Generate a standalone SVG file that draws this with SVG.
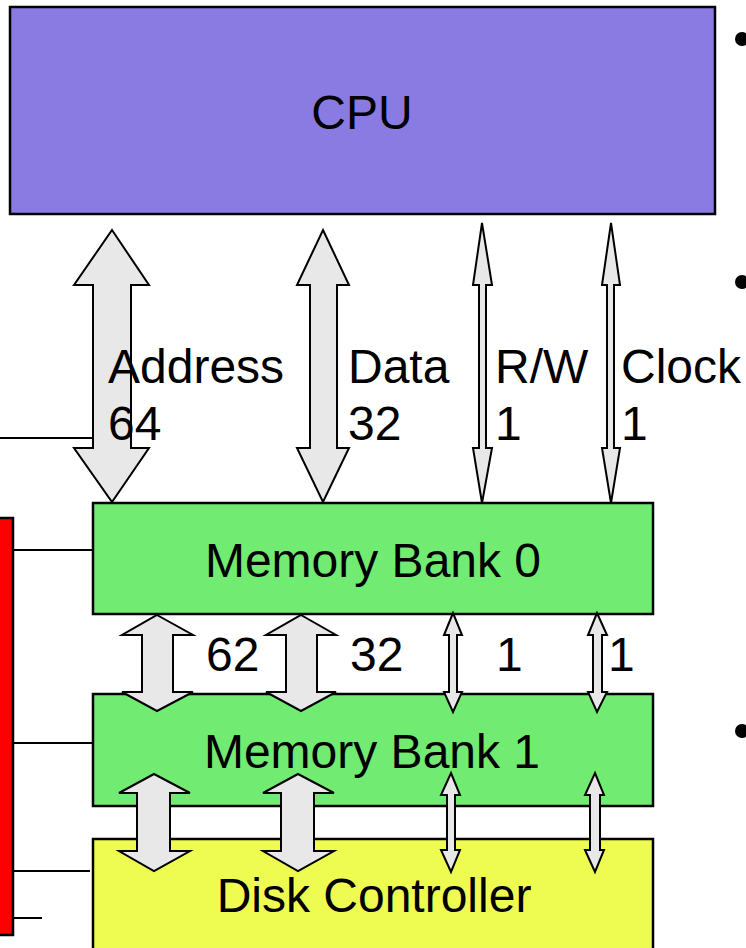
<svg xmlns="http://www.w3.org/2000/svg" width="746" height="948" viewBox="0 0 746 948">
<style>
.box{stroke:#000;stroke-width:2.5}
.arr{fill:#e8e8e8;stroke:#000;stroke-width:2;stroke-linejoin:miter}
.ln{stroke:#000;stroke-width:2;fill:none}
text{font-family:"Liberation Sans",Arial,sans-serif;font-size:48px;fill:#000}
.c{text-anchor:middle}
</style>
<rect width="746" height="948" fill="#fff"/>
<g id="lines">
<line class="ln" x1="0" y1="438" x2="92" y2="438"/>
<line class="ln" x1="13" y1="550" x2="93" y2="550"/>
<line class="ln" x1="13" y1="743" x2="93" y2="743"/>
<line class="ln" x1="11" y1="871" x2="90" y2="871"/>
<line class="ln" x1="11" y1="918" x2="42" y2="918"/>
</g>
<g id="bus"><rect class="box" x="-5" y="518" width="18" height="417" fill="#ff0000"/></g>
<g id="cpu"><rect class="box" x="10" y="7" width="705" height="207" fill="#8a7be3"/><text class="c" x="362" y="129">CPU</text></g>
<g id="bank0"><rect class="box" x="93" y="503" width="560" height="111" fill="#72eb72"/><text class="c" x="373" y="577">Memory Bank 0</text></g>
<g id="bank1"><rect class="box" x="93" y="694" width="560" height="112" fill="#72eb72"/><text class="c" x="372" y="768">Memory Bank 1</text></g>
<g id="disk"><rect class="box" x="93" y="839" width="560" height="120" fill="#eefc52"/><text class="c" x="374" y="912">Disk Controller</text></g>
<g id="connectors">
<polygon class="arr" points="112,230 149,285 131,285 131,448 149,448 112,502 74,448 93,448 93,285 74,285"/>
<polygon class="arr" points="323,230 349,285 337,285 337,448 349,448 323,502 297,448 310,448 310,285 297,285"/>
<polygon class="arr" points="482,223 492,285 486,285 486,448 492,448 482,503 473,448 479,448 479,285 473,285"/>
<polygon class="arr" points="611,223 620,285 614,285 614,448 620,448 611,503 602,448 607,448 607,285 602,285"/>
<polygon class="arr" points="157,615 193,635 173,635 173,692 193,692 157,711 122,692 142,692 142,635 122,635"/>
<polygon class="arr" points="301,615 336,635 317,635 317,692 336,692 301,711 266,692 286,692 286,635 266,635"/>
<polygon class="arr" points="453,613 462,635 457,635 457,692 462,692 453,712 444,692 449,692 449,635 444,635"/>
<polygon class="arr" points="597,613 607,635 602,635 602,692 607,692 597,712 588,692 593,692 593,635 588,635"/>
<polygon class="arr" points="154,774 190,793 170,793 170,851 190,851 154,871 119,851 137,851 137,793 119,793"/>
<polygon class="arr" points="298,774 334,793 314,793 314,851 334,851 298,871 263,851 281,851 281,793 263,793"/>
<polygon class="arr" points="451,773 460,795 455,795 455,850 460,850 451,872 441,850 447,850 447,795 441,795"/>
<polygon class="arr" points="595,773 604,795 600,795 600,850 604,850 595,872 585,850 590,850 590,795 585,795"/>
</g>
<g id="labels">
<text x="108" y="383">Address</text><text x="108" y="440">64</text>
<text x="348" y="383">Data</text><text x="348" y="440">32</text>
<text x="495" y="383">R/W</text><text x="495" y="440">1</text>
<text x="621" y="383">Clock</text><text x="621" y="440">1</text>
<text x="206" y="671">62</text><text x="350" y="671">32</text>
<text x="496" y="671">1</text><text x="608" y="671">1</text>
</g>
<g id="bullets" fill="#000">
<circle cx="742" cy="39" r="7"/>
<circle cx="742" cy="282" r="7"/>
<circle cx="742" cy="731" r="7"/>
</g>
</svg>
